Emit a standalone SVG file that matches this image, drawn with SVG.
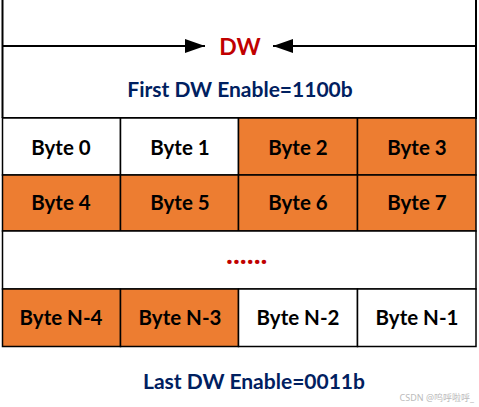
<svg xmlns="http://www.w3.org/2000/svg" width="479" height="407" viewBox="0 0 479 407">
<style>
.cell{stroke:#000;stroke-width:1.5}
.w{fill:#fff}
.o{fill:#ED7D31}
.bt{font-family:Lato,"Open Sans",sans-serif;font-weight:bold;font-size:20.5px;fill:#000;text-anchor:middle;dominant-baseline:central}
.lbl{font-family:Lato,"Open Sans",sans-serif;font-weight:bold;font-size:21px;fill:#002060;text-anchor:middle;dominant-baseline:central}
</style>
<defs>
<marker id="ah" viewBox="0 0 10 10" refX="10" refY="5" markerWidth="10" markerHeight="10" markerUnits="userSpaceOnUse" orient="auto">
<path d="M0,0 L10,5 L0,10 Z" fill="#000"/>
</marker>
</defs>
<rect width="479" height="407" fill="#fff"/>
<g id="frame">
<line x1="2.5" y1="0" x2="2.5" y2="118" stroke="#000" stroke-width="2"/>
<line x1="476" y1="0" x2="476" y2="118" stroke="#000" stroke-width="2"/>
<line x1="2" y1="118" x2="477" y2="118" stroke="#000" stroke-width="2"/>
</g>
<g id="connectors">
<line x1="2" y1="46" x2="205" y2="46" stroke="#000" stroke-width="2"/>
<path d="M185,39 L205,46 L185,53 Z" fill="#000"/>
<line x1="476" y1="46" x2="273" y2="46" stroke="#000" stroke-width="2"/>
<path d="M293,39 L273,46 L293,53 Z" fill="#000"/>
</g>
<g id="dw"><text x="240" y="46" font-family="Lato,'Open Sans',sans-serif" font-weight="bold" font-size="23" fill="#C00000" text-anchor="middle" dominant-baseline="central">DW</text></g>
<g id="first"><text class="lbl" x="240" y="88">First DW Enable=1100b</text></g>
<g id="row0">
<rect class="cell w" x="2.5" y="118" width="118" height="57"/>
<text class="bt" x="61" y="147">Byte 0</text>
<rect class="cell w" x="120.5" y="118" width="118" height="57"/>
<text class="bt" x="180" y="147">Byte 1</text>
<rect class="cell o" x="238.5" y="118" width="119" height="57"/>
<text class="bt" x="298" y="147">Byte 2</text>
<rect class="cell o" x="357.5" y="118" width="118.5" height="57"/>
<text class="bt" x="417" y="147">Byte 3</text>
</g>
<g id="row1">
<rect class="cell o" x="2.5" y="175" width="118" height="56"/>
<text class="bt" x="61" y="202">Byte 4</text>
<rect class="cell o" x="120.5" y="175" width="118" height="56"/>
<text class="bt" x="180" y="202">Byte 5</text>
<rect class="cell o" x="238.5" y="175" width="119" height="56"/>
<text class="bt" x="298" y="202">Byte 6</text>
<rect class="cell o" x="357.5" y="175" width="118.5" height="56"/>
<text class="bt" x="417" y="202">Byte 7</text>
</g>
<g id="dots">
<rect class="cell w" x="2.5" y="231" width="473.5" height="58"/>
<text x="247" y="253" font-family="Lato,'Open Sans',sans-serif" font-weight="900" font-size="27" letter-spacing="0.5" fill="#C00000" text-anchor="middle" dominant-baseline="central">......</text>
</g>
<g id="row2">
<rect class="cell o" x="2.5" y="289" width="118" height="57.5"/>
<text class="bt" x="61" y="317">Byte N-4</text>
<rect class="cell o" x="120.5" y="289" width="118" height="57.5"/>
<text class="bt" x="180" y="317">Byte N-3</text>
<rect class="cell w" x="238.5" y="289" width="119" height="57.5"/>
<text class="bt" x="298" y="317">Byte N-2</text>
<rect class="cell w" x="357.5" y="289" width="118.5" height="57.5"/>
<text class="bt" x="417" y="317">Byte N-1</text>
</g>
<g id="last"><text class="lbl" x="254" y="380">Last DW Enable=0011b</text></g>
<g id="wm"><text x="474" y="397" font-family="'Noto Sans','Noto Sans CJK SC',sans-serif" font-size="9" fill="#bbb" text-anchor="end" dominant-baseline="central">CSDN @呜呼啦呼_</text></g>
</svg>
